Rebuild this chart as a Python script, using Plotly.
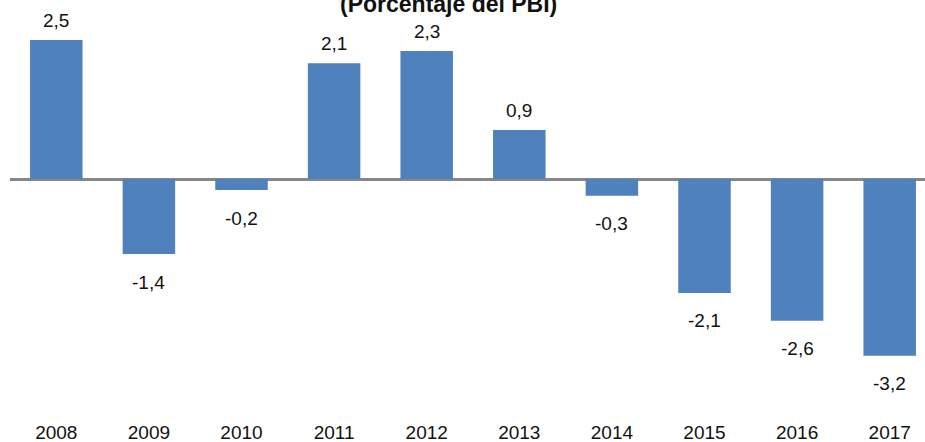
import plotly.graph_objects as go

years = ["2008", "2009", "2010", "2011", "2012", "2013", "2014", "2015", "2016", "2017"]
values = [2.5, -1.35, -0.2, 2.08, 2.3, 0.88, -0.3, -2.05, -2.55, -3.18]
labels = ["2,5", "-1,4", "-0,2", "2,1", "2,3", "0,9", "-0,3", "-2,1", "-2,6", "-3,2"]
title_text = "(Porcentaje del PBI)"

FONT = "Liberation Sans, Arial, sans-serif"
BAR_COLOR = "#4F81BD"

fig = go.Figure()
fig.add_trace(go.Bar(
    x=list(range(len(years))), y=values,
    marker=dict(color=BAR_COLOR, line=dict(width=0)),
    hoverinfo="skip",
))

annotations = []
for i, (v, lab) in enumerate(zip(values, labels)):
    annotations.append(dict(
        x=i, y=v, xref="x", yref="y", text=lab, showarrow=False,
        yanchor="middle", yshift=20 if v >= 0 else -28,
        font=dict(family=FONT, size=19, color="#111111"),
    ))
annotations.append(dict(
    x=(448 - 10) / 915, y=1 - 4 / 419, xref="paper", yref="paper",
    text="<b>" + title_text + "</b>", showarrow=False, yanchor="middle",
    xanchor="center", font=dict(family=FONT, size=23, color="#111111"),
))

fig.update_layout(
    width=925, height=442,
    margin=dict(l=10, r=0, t=0, b=23),
    paper_bgcolor="white", plot_bgcolor="white",
    bargap=0.433,
    showlegend=False,
    annotations=annotations,
    xaxis=dict(
        range=[-0.5, -0.5 + 915 / 92.6],
        tickmode="array", tickvals=list(range(len(years))), ticktext=years,
        showgrid=False, showline=False, zeroline=False, ticks="",
        tickfont=dict(family=FONT, size=19, color="#111111"),
    ),
    yaxis=dict(
        range=[-(419 - 179) / 55.6, 179 / 55.6],
        showgrid=False, showline=False, showticklabels=False, ticks="",
        zeroline=True, zerolinecolor="#878787", zerolinewidth=3,
    ),
)

fig.write_html(
    "out.html",
    config={"displayModeBar": False},
    post_script="document.body.style.margin='0';document.body.style.padding='0';",
)
